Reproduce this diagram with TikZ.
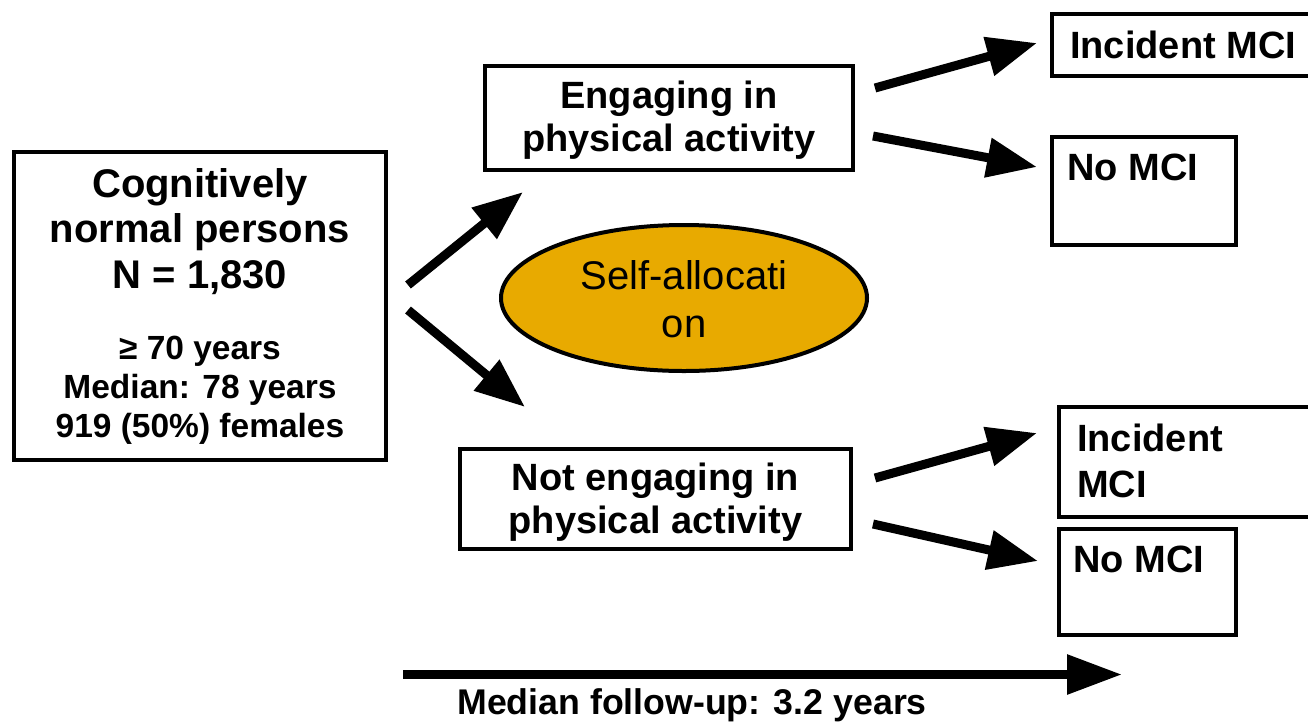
\documentclass[tikz,border=0pt]{standalone}
\usepackage{fontspec}
\setmainfont{Liberation Sans}
\usetikzlibrary{arrows.meta,shapes.geometric,calc}
\definecolor{allocgold}{HTML}{E8AA00}
\begin{document}
\begin{tikzpicture}[x=1pt,y=-1pt,
  box/.style={draw, line width=4pt, rectangle, inner sep=0pt, outer sep=0pt},
  flow/.style={line width=9pt, -{Triangle[length=50pt,width=38pt]}},
  txt/.style={inner sep=0pt, anchor=base},
  txtl/.style={inner sep=0pt, anchor=base west},
  big/.style={font=\fontsize{40}{46}\selectfont\bfseries},
  mid/.style={font=\fontsize{38}{44}\selectfont\bfseries},
  small/.style={font=\fontsize{33.5}{39}\selectfont\bfseries}
]
\useasboundingbox (0,0) rectangle (1308,724);

% boxes
\node[box, minimum width=372pt, minimum height=308pt] (cog) at (200,306) {};
\node[box, minimum width=368pt, minimum height=104pt] (eng) at (669,118) {};
\node[box, minimum width=391pt, minimum height=100pt] (noteng) at (655.5,499) {};
\node[box, minimum width=262pt, minimum height=62pt] (inc1) at (1183,45) {};
\node[box, minimum width=184pt, minimum height=108pt] (no1) at (1144,191) {};
\node[box, minimum width=255pt, minimum height=110pt] (inc2) at (1186.5,462) {};
\node[box, minimum width=177pt, minimum height=106pt] (no2) at (1147.5,582) {};

% allocation ellipse
\node[ellipse, draw, line width=4pt, fill=allocgold, inner sep=0pt,
      minimum width=366pt, minimum height=146pt] (alloc) at (684,298) {};
\node[txt, font=\fontsize{40}{46}\selectfont] (alloc1) at (684,289) {Self-allocati};
\node[txt, font=\fontsize{40}{46}\selectfont] (alloc2) at (684,337) {on};

% cohort text
\node[txt, big] (cog1) at (200,197) {Cognitively};
\node[txt, big] (cog2) at (200,242) {normal persons};
\node[txt, big] (cog3) at (200,288) {N = 1,830};
\node[txt, small] (cog4) at (200,359) {≥ 70 years};
\node[txt, small] (cog5) at (200,398) {Median: 78 years};
\node[txt, small] (cog6) at (200,437) {919 (50\%) females};

% group text
\node[txt, mid] (eng1) at (669,108) {Engaging in};
\node[txt, mid] (eng2) at (669,151) {physical activity};
\node[txt, mid] (noteng1) at (655.5,490) {Not engaging in};
\node[txt, mid] (noteng2) at (655.5,533) {physical activity};

% outcome text
\node[txtl, mid] (inc1t) at (1070,58) {Incident MCI};
\node[txtl, mid] (no1t) at (1067,180) {No MCI};
\node[txtl, mid] (inc2t1) at (1077,451) {Incident};
\node[txtl, mid] (inc2t2) at (1077,497) {MCI};
\node[txtl, mid] (no2t) at (1073,572) {No MCI};

% connectors
\draw[flow] ($(cog.east)+(22,-21)$) -- ($(eng.south west)+(38,22)$);
\draw[flow] ($(cog.east)+(22,4)$) -- ($(noteng.north west)+(65,-42)$);
\draw[flow] ($(eng.east)+(22,-30)$) -- ($(inc1.west)+(-15,-2)$);
\draw[flow] ($(eng.east)+(20,18)$) -- ($(no1.west)+(-15,-24)$);
\draw[flow] ($(noteng.east)+(24,-21)$) -- ($(inc2.west)+(-22,-29)$);
\draw[flow] ($(noteng.east)+(22,25)$) -- ($(no2.west)+(-21,-21)$);

% follow-up time axis
\coordinate (tstart) at (403,674.5);
\coordinate (tend) at (1122,674.5);
\draw[line width=9pt, -{Triangle[length=55pt,width=38pt]}] (tstart) -- (tend);
\node[txt, font=\fontsize{35.7}{41}\selectfont\bfseries] (tlabel) at (692,714) {Median follow-up: 3.2 years};
\end{tikzpicture}
\end{document}
